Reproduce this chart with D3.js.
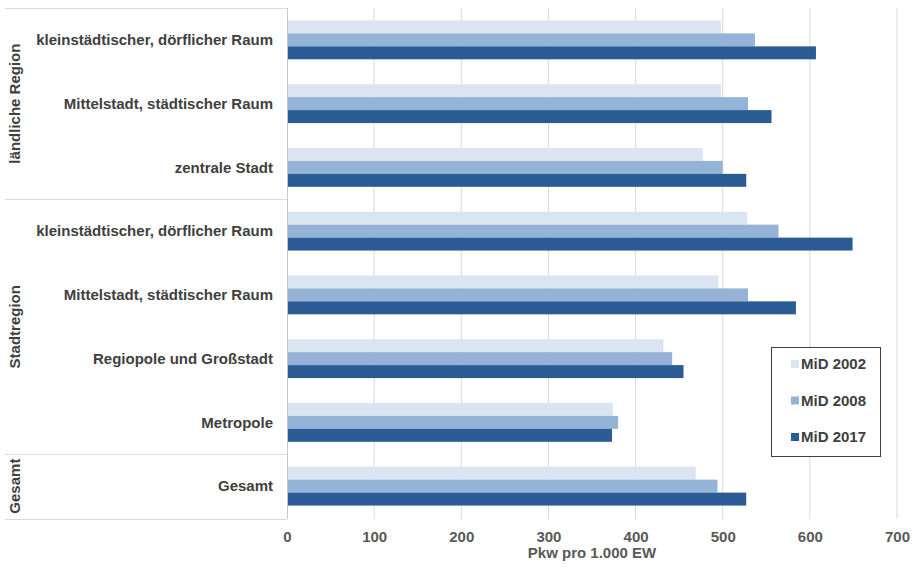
<!DOCTYPE html>
<html lang="de">
<head>
<meta charset="utf-8">
<title>Pkw pro 1.000 EW</title>
<script src="https://d3js.org/d3.v7.min.js"></script>
<style>
  body { margin: 0; background: #fff; }
  svg { font-family: "Liberation Sans", Arial, sans-serif; }
  .cat { font-size: 15px; font-weight: bold; fill: #404040; }
  .grp { font-size: 15px; font-weight: bold; fill: #404040; }
  .axis text { font-size: 15px; font-weight: bold; fill: #595959; }
  .legend text { font-size: 15px; font-weight: bold; fill: #404040; }
</style>
</head>
<body>
<svg id="chart" width="915" height="568"></svg>
<script>
// categories (top to bottom) and their group
const categories = [
  "kleinstädtischer, dörflicher Raum",
  "Mittelstadt, städtischer Raum",
  "zentrale Stadt",
  "kleinstädtischer, dörflicher Raum ",
  "Mittelstadt, städtischer Raum ",
  "Regiopole und Großstadt",
  "Metropole",
  "Gesamt"
];
const groups = [
  { name: "ländliche Region", from: 0, to: 3 },
  { name: "Stadtregion", from: 3, to: 7 },
  { name: "Gesamt", from: 7, to: 8 }
];
const seriesNames = ["MiD 2002", "MiD 2008", "MiD 2017"];
const mid2002 = [498, 498, 477, 528, 495, 432, 374, 469];
const mid2008 = [537, 529, 500, 564, 529, 442, 380, 494];
const mid2017 = [607, 556, 527, 649, 584, 455, 373, 527];
const xTicks = [0, 100, 200, 300, 400, 500, 600, 700];
const colors = ["#dbe5f1", "#95b3d7", "#2b5b94"];

const series = [mid2002, mid2008, mid2017];
const rows = categories.map((c, i) => ({ cat: c, vals: series.map(s => s[i]) }));

const svg = d3.select("#chart");
const pl = 287, pr = 897, pt = 8, pb = 518;

const x = d3.scaleLinear().domain([0, 700]).range([pl, pr]);
const y = d3.scaleBand().domain(categories).range([pt, pb])
  .paddingInner(0.39).paddingOuter(0.195);
const ySub = d3.scaleBand().domain(d3.range(3)).range([0, y.bandwidth()]);

// gridlines
svg.append("g").selectAll("line").data(xTicks.slice(1)).join("line")
  .attr("x1", d => x(d)).attr("x2", d => x(d))
  .attr("y1", pt).attr("y2", pb + 1)
  .attr("stroke", "#d9d9d9").attr("stroke-width", 1);

// label panel separators
const sepY = [pt, y.step() * 3 + pt, y.step() * 7 + pt, pb + 1];
svg.append("g").selectAll("line").data(sepY).join("line")
  .attr("x1", 5).attr("x2", pl)
  .attr("y1", d => Math.round(d) + 0.5).attr("y2", d => Math.round(d) + 0.5)
  .attr("stroke", "#d9d9d9");

// bars
const rowG = svg.append("g").selectAll("g").data(rows).join("g")
  .attr("transform", d => `translate(0,${y(d.cat)})`);
rowG.selectAll("rect").data(d => d.vals).join("rect")
  .attr("x", x(0))
  .attr("y", (d, i) => ySub(i))
  .attr("width", d => x(d) - x(0))
  .attr("height", ySub.bandwidth())
  .attr("fill", (d, i) => colors[i]);

// vertical axis line
svg.append("line")
  .attr("x1", pl + 0.5).attr("x2", pl + 0.5)
  .attr("y1", pt).attr("y2", pb + 1)
  .attr("stroke", "#c8c8c8");

// category labels
svg.append("g").selectAll("text").data(categories).join("text")
  .attr("class", "cat")
  .attr("x", 273)
  .attr("y", d => y(d) + y.bandwidth() / 2)
  .attr("dy", "0.35em")
  .attr("text-anchor", "end")
  .text(d => d.trim());

// group labels (rotated)
svg.append("g").selectAll("text").data(groups).join("text")
  .attr("class", "grp")
  .attr("transform", d => {
    const cy = (pt + d.from * y.step() + pt + d.to * y.step()) / 2;
    return `translate(20,${cy}) rotate(-90)`;
  })
  .attr("text-anchor", "middle")
  .text(d => d.name);

// x axis
const xAxis = svg.append("g").attr("class", "axis")
  .attr("transform", `translate(0,${pb})`)
  .call(d3.axisBottom(x).tickValues(xTicks).tickSize(0).tickPadding(13));
xAxis.select(".domain").remove();

svg.append("text")
  .attr("x", (pl + pr) / 2).attr("y", 558)
  .attr("text-anchor", "middle")
  .style("font-size", "15px").style("font-weight", "bold").style("fill", "#595959")
  .text("Pkw pro 1.000 EW");

// legend
const lg = svg.append("g").attr("class", "legend").attr("transform", "translate(771,347)");
lg.append("rect").attr("x", 0.5).attr("y", 0.5).attr("width", 109).attr("height", 109)
  .attr("fill", "#fff").attr("stroke", "#404040");
const li = lg.selectAll("g.item").data(seriesNames).join("g")
  .attr("class", "item")
  .attr("transform", (d, i) => `translate(0,${17 + i * 36.5})`);
li.append("rect").attr("x", 20).attr("y", -4).attr("width", 8).attr("height", 8)
  .attr("fill", (d, i) => colors[i]);
li.append("text").attr("x", 30).attr("dy", "0.35em").text(d => d);
</script>
</body>
</html>
